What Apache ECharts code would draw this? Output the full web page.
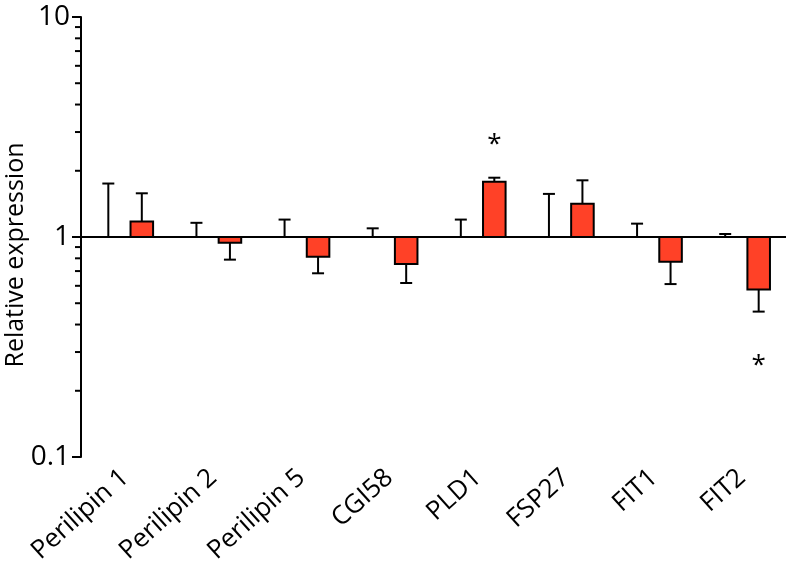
<!DOCTYPE html>
<html>
<head>
<meta charset="utf-8">
<script src="https://cdn.jsdelivr.net/npm/echarts@6/dist/echarts.min.js"></script>
<style>html,body{margin:0;padding:0;background:#fff}#c{width:791px;height:581px}</style>
</head>
<body>
<div id="c"></div>
<script>
const categories = ['Perilipin 1','Perilipin 2','Perilipin 5','CGI58','PLD1','FSP27','FIT1','FIT2'];
const controlValues = [1, 1, 1, 1, 1, 1, 1, 1];
const controlErrors = [1.75, 1.16, 1.20, 1.095, 1.20, 1.57, 1.15, 1.032];
const treatedValues = [1.175, 0.942, 0.814, 0.754, 1.785, 1.417, 0.772, 0.578];
const treatedErrors = [1.58, 0.789, 0.684, 0.618, 1.86, 1.81, 0.611, 0.458];
const significance = [null, null, null, null, 2.76, null, null, 0.273];
const yTicksMinor = [0.2,0.3,0.4,0.5,0.6,0.7,0.8,0.9,2,3,4,5,6,7,8,9];

const FONT = 'Open Sans';
const RED = '#FF4127';

function groupRenderer(offsetFrac, drawBar) {
  return function (params, api) {
    const cat = api.value(0), v = api.value(1), e = api.value(2);
    const band = api.size([1, 0])[0];
    const base = api.coord([cat, 1]);
    const top = api.coord([cat, v]);
    const err = api.coord([cat, e]);
    const cx = base[0] + offsetFrac * band;
    const w = band * 0.256;
    const children = [
      {type: 'line', shape: {x1: cx, y1: top[1], x2: cx, y2: err[1]}, style: {stroke: '#000', lineWidth: 2}},
      {type: 'line', shape: {x1: cx - 6, y1: err[1], x2: cx + 6, y2: err[1]}, style: {stroke: '#000', lineWidth: 2}}
    ];
    if (drawBar) {
      children.push({type: 'rect', shape: {x: cx - w / 2, y: Math.min(base[1], top[1]), width: w, height: Math.abs(top[1] - base[1])},
        style: {fill: RED, stroke: '#000', lineWidth: 2}});
    }
    return {type: 'group', children};
  };
}

const chart = echarts.init(document.getElementById('c'));
chart.setOption({
  animation: false,
  backgroundColor: '#fff',
  textStyle: {fontFamily: FONT},
  grid: {left: 81, right: 5, top: 17, bottom: 124},
  xAxis: {
    type: 'category', data: categories,
    axisLine: {show: false}, axisTick: {show: false},
    axisLabel: {rotate: 42, fontSize: 26, color: '#000', margin: 17, fontFamily: FONT, interval: 0}
  },
  yAxis: {
    type: 'log', logBase: 10, min: 0.1, max: 10,
    axisLine: {show: true, lineStyle: {color: '#000', width: 2}},
    axisTick: {show: true, length: 9, lineStyle: {color: '#000', width: 2}},
    splitLine: {show: false},
    axisLabel: {fontSize: 28, color: '#000', margin: 11, fontFamily: FONT}
  },
  graphic: [{
    type: 'text', rotation: Math.PI / 2,
    x: 3, y: 255,
    style: {text: 'Relative expression', font: '25px "Open Sans"', fill: '#000', textAlign: 'center', textVerticalAlign: 'top'}
  }],
  series: [
    {
      type: 'custom', name: 'minor', clip: false, silent: true,
      data: yTicksMinor.map(v => [0, v]),
      renderItem: function (params, api) {
        const band = api.size([1, 0])[0];
        const p = api.coord([0, api.value(1)]);
        const x = p[0] - band / 2;
        return {type: 'line', shape: {x1: x - 6, y1: p[1], x2: x, y2: p[1]}, style: {stroke: '#000', lineWidth: 2}};
      }
    },
    {
      type: 'custom', name: 'Control', clip: false,
      data: categories.map((c, i) => [i, controlValues[i], controlErrors[i]]),
      renderItem: groupRenderer(-0.19, false),
      markLine: {silent: true, symbol: 'none', label: {show: false},
        lineStyle: {color: '#000', width: 2, type: 'solid'}, data: [{yAxis: 1}]}
    },
    {
      type: 'custom', name: 'Treated', clip: false, z: 5,
      data: categories.map((c, i) => [i, treatedValues[i], treatedErrors[i]]),
      renderItem: groupRenderer(0.19, true)
    },
    {
      type: 'custom', name: 'sig', clip: false,
      data: significance.map((v, i) => v == null ? null : [i, v]).filter(d => d),
      renderItem: function (params, api) {
        const band = api.size([1, 0])[0];
        const p = api.coord([api.value(0), api.value(1)]);
        return {type: 'text', x: p[0] + 0.19 * band, y: p[1] + 5,
          style: {text: '*', font: '26px "Open Sans"', fill: '#000', textAlign: 'center', textVerticalAlign: 'middle'}};
      }
    }
  ]
});
</script>
</body>
</html>
